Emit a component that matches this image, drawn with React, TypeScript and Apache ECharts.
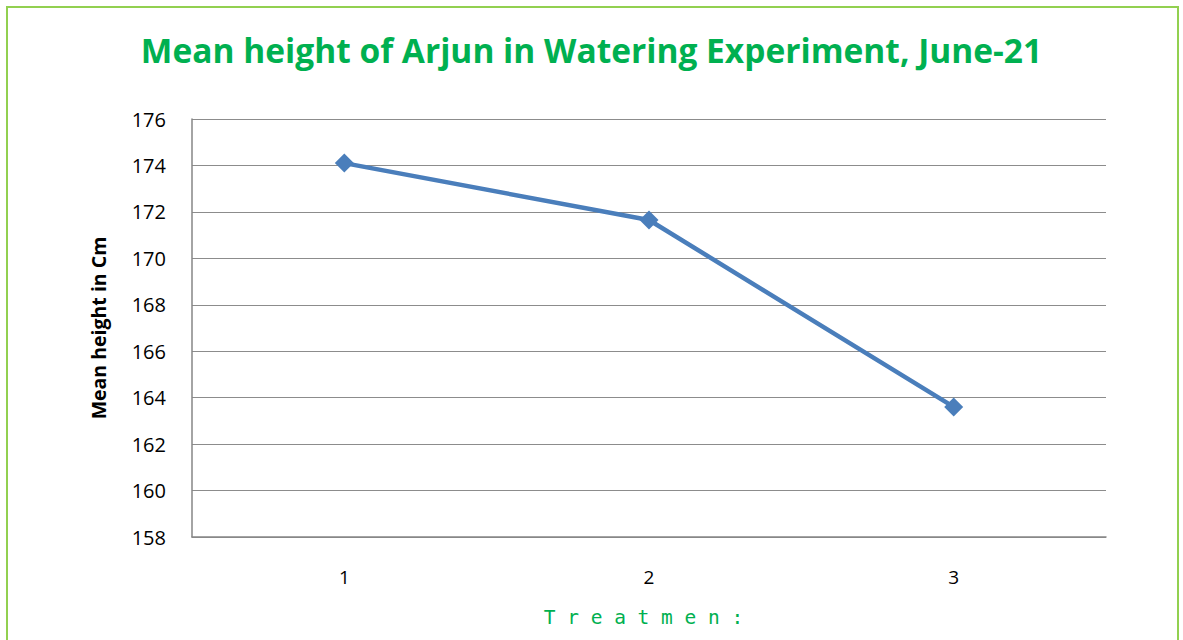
import React, { useEffect, useRef } from "react";
import * as echarts from "echarts";

const categories = ["1", "2", "3"];
const meanHeights = [174.1, 171.65, 163.6];
const titleText = "Mean height of Arjun in Watering Experiment, June-21";
const yAxisTitle = "Mean height in Cm";
const xAxisTitle = "T r e a t m e n :";

export default function App() {
  const ref = useRef<HTMLDivElement>(null);
  useEffect(() => {
    document.body.style.margin = "0";
    const chart = echarts.init(ref.current!, null, { renderer: "svg" });
    chart.setOption({
      animation: false,
      backgroundColor: "#ffffff",
      title: {
        text: titleText,
        left: "center",
        top: 28,
        textStyle: {
          color: "#00B050",
          fontFamily: "Open Sans",
          fontWeight: "bold",
          fontSize: 33.5,
        },
      },
      graphic: [
        {
          type: "rect",
          shape: { x: 7, y: 7, width: 1171, height: 700 },
          style: { fill: "none", stroke: "#92D050", lineWidth: 2 },
          silent: true,
        },
      ],
      grid: { left: 192, right: 77, top: 119, bottom: 103 },
      xAxis: {
        type: "category",
        data: categories,
        boundaryGap: true,
        name: xAxisTitle,
        nameLocation: "middle",
        nameGap: 70,
        nameTextStyle: {
          color: "#00B050",
          fontFamily: "DejaVu Sans Mono",
          fontSize: 19.5,
          padding: [0, 11, 0, 0],
        },
        axisLine: { lineStyle: { color: "#868686", width: 1.5 } },
        axisTick: { show: false },
        axisLabel: {
          color: "#000",
          fontFamily: "Open Sans",
          fontSize: 19,
          margin: 30,
        },
      },
      yAxis: {
        type: "value",
        min: 158,
        max: 176,
        interval: 2,
        name: yAxisTitle,
        nameLocation: "middle",
        nameGap: 84,
        nameTextStyle: {
          color: "#000",
          fontFamily: "Open Sans",
          fontWeight: "bold",
          fontSize: 19.5,
        },
        axisLine: { show: true, lineStyle: { color: "#868686", width: 1.5 } },
        axisTick: { show: false },
        axisLabel: {
          color: "#000",
          fontFamily: "Open Sans",
          fontSize: 20,
          margin: 26,
        },
        splitLine: { lineStyle: { color: "#8c8c8c", width: 1.2 } },
      },
      series: [
        {
          type: "line",
          data: meanHeights,
          symbol: "diamond",
          symbolSize: 19,
          itemStyle: { color: "#4A7EBB" },
          lineStyle: { color: "#4A7EBB", width: 4.5 },
        },
      ],
    });
    return () => chart.dispose();
  }, []);
  return <div ref={ref} style={{ width: 1183, height: 640 }} />;
}
